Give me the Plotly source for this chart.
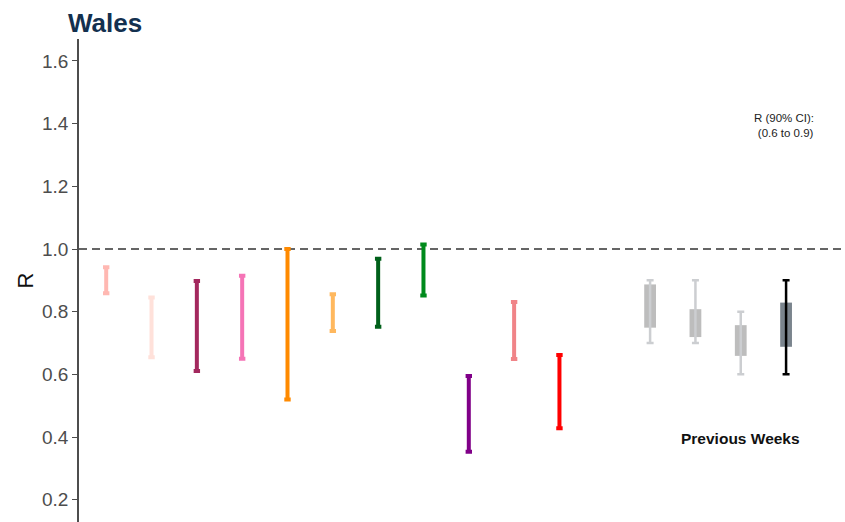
import plotly.graph_objects as go

# Model estimates (90% CI)
models_pos = [1, 2, 3, 4, 5, 6, 7, 8, 9, 10, 11]
models_lo = [0.859, 0.655, 0.611, 0.650, 0.520, 0.738, 0.752, 0.852, 0.353, 0.649, 0.428]
models_hi = [0.942, 0.845, 0.898, 0.915, 1.000, 0.856, 0.969, 1.014, 0.595, 0.831, 0.662]
models_col = ["#FFB8B2", "#FFE1DA", "#A3285E", "#F574B6", "#FF8A00", "#FFB85E",
              "#00601A", "#008A1C", "#800088", "#F08488", "#FF0000"]

# Previous weeks
prev_pos = [13, 14, 15, 16]
prev_lo = [0.70, 0.70, 0.60, 0.60]
prev_hi = [0.90, 0.90, 0.80, 0.90]
prev_box_lo = [0.749, 0.719, 0.659, 0.688]
prev_box_hi = [0.887, 0.808, 0.757, 0.829]
prev_box_col = ["#BDBDBD", "#BDBDBD", "#BDBDBD", "#7A848D"]
prev_wh_col = ["#CCCED1", "#CCCED1", "#CCCED1", "#000000"]

y_ticks = [0.2, 0.4, 0.6, 0.8, 1.0, 1.2, 1.4, 1.6]
y_tick_text = ["0.2", "0.4", "0.6", "0.8", "1.0", "1.2", "1.4", "1.6"]

FONT = "Liberation Sans, Arial, sans-serif"

fig = go.Figure()

# grey boxes
for p, bl, bh, c in zip(prev_pos, prev_box_lo, prev_box_hi, prev_box_col):
    fig.add_trace(go.Bar(x=[p], y=[bh - bl], base=[bl], width=0.26,
                         marker=dict(color=c, line=dict(width=0)),
                         showlegend=False, hoverinfo="skip"))

# previous week whiskers
for p, lo, hi, c in zip(prev_pos, prev_lo, prev_hi, prev_wh_col):
    mid = (lo + hi) / 2
    fig.add_trace(go.Scatter(x=[p], y=[mid], mode="markers",
                             marker=dict(size=0.1, color="rgba(0,0,0,0)"),
                             error_y=dict(type="data", symmetric=False,
                                          array=[hi - mid], arrayminus=[mid - lo],
                                          color=c, thickness=2.5, width=3.5),
                             showlegend=False, hoverinfo="skip"))

# model bars
for p, lo, hi, c in zip(models_pos, models_lo, models_hi, models_col):
    mid = (lo + hi) / 2
    fig.add_trace(go.Scatter(x=[p], y=[mid], mode="markers",
                             marker=dict(size=0.1, color="rgba(0,0,0,0)"),
                             error_y=dict(type="data", symmetric=False,
                                          array=[hi - mid], arrayminus=[mid - lo],
                                          color=c, thickness=4, width=3.2),
                             showlegend=False, hoverinfo="skip"))

fig.add_hline(y=1.0, line=dict(color="#333333", width=1.4, dash="8px,5px"), layer="below")

fig.add_annotation(x=15, y=0.395, text="<b>Previous Weeks</b>", showarrow=False,
                   font=dict(family=FONT, size=15.5, color="#111111"))
fig.add_annotation(x=15.95, y=1.445, text="R (90% CI):<br> (0.6 to 0.9)", showarrow=False,
                   align="center", yanchor="top",
                   font=dict(family=FONT, size=11.5, color="#222222"))

fig.update_layout(
    width=845, height=522,
    margin=dict(l=79, r=0, t=39, b=0),
    plot_bgcolor="white", paper_bgcolor="white",
    barmode="overlay",
    title=dict(text="<b>Wales</b>", x=68/845, xanchor="left", xref="container",
               y=1 - 23/522, yanchor="middle", yref="container",
               font=dict(family=FONT, size=26, color="#13304F")),
    xaxis=dict(range=[0.4, 17.3], visible=False, showgrid=False, zeroline=False),
    yaxis=dict(range=[0.129, 1.67], tickvals=y_ticks, ticktext=y_tick_text,
               showgrid=False, zeroline=False, showline=True, linecolor="#4D4D4D",
               linewidth=1.5, ticks="outside", ticklen=5, tickcolor="#4D4D4D",
               tickfont=dict(family=FONT, size=19, color="#4D4D4D"),
               title=dict(text="R", standoff=2,
                          font=dict(family=FONT, size=22, color="#111111"))),
)

fig.write_html("out.html")
